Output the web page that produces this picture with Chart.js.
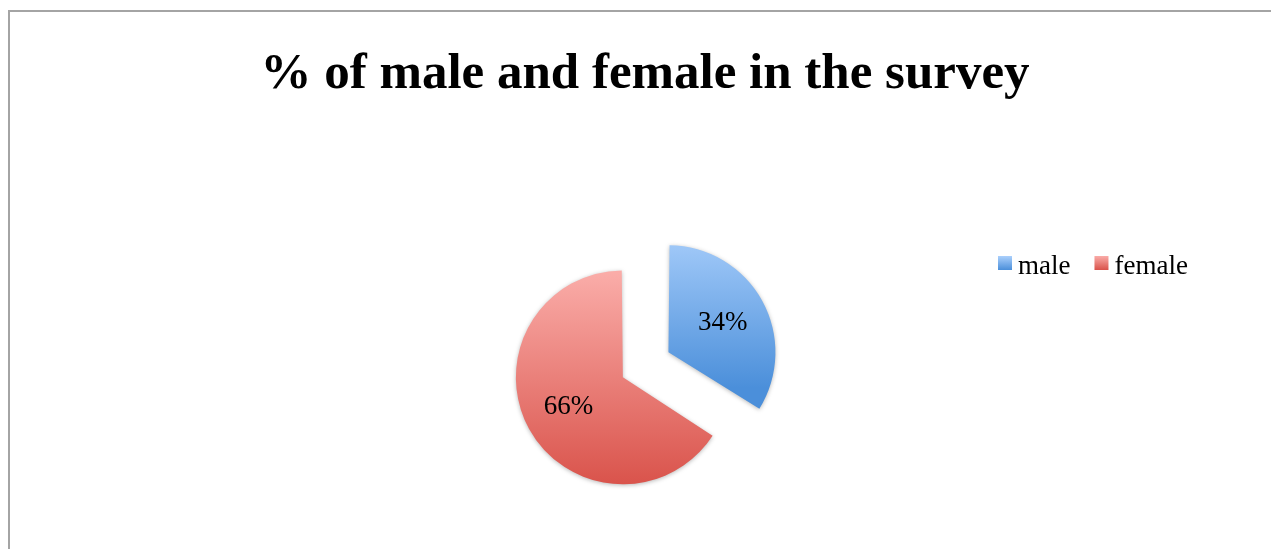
<!DOCTYPE html>
<html>
<head>
<meta charset="utf-8">
<title>% of male and female in the survey</title>
<script src="https://cdn.jsdelivr.net/npm/chart.js@4.4.1/dist/chart.umd.min.js"></script>
<style>
html, body { margin: 0; padding: 0; background: #fff; overflow: hidden; }
#wrap { position: relative; width: 1271px; height: 549px; }
#frame { position: absolute; left: 8px; top: 10px; right: -10px; bottom: -10px;
         border-top: 2px solid #a4a4a4; border-left: 2px solid #a4a4a4; }
#survey { position: absolute; left: 0; top: 0; }
</style>
</head>
<body>
<div id="wrap">
  <div id="frame"></div>
  <canvas id="survey" width="1271" height="549"></canvas>
</div>
<script>
var genders = ['male', 'female'];
var shares = [34, 66];
var chartTitle = '% of male and female in the survey';

// light (top) and dark (bottom) end of each slice gradient
var lightColors = ['#abd0fc', '#faaca8'];
var darkColors = ['#4b8fda', '#d9524a'];

// Chart.js moves an arc by offset/4 and grows it by (offset/4)*(1 - sin(min(PI, sweep))),
// so these two keep both slices at the same radius once exploded
var PIE_RADIUS = 100;
var EXPLODE = [180, 28];

function sliceShift(i){
	var total = shares.reduce(function(a, b){ return a + b; }, 0);
	var sweep = 2 * Math.PI * shares[i] / total;
	var move = EXPLODE[i] / 4;
	return { move: move, grow: move * (1 - Math.sin(Math.min(Math.PI, sweep))) };
}

// vertical extent of slice i after it has been pushed out along its bisector
function sliceSpan(i, cy){
	var total = 0, before = 0;
	for (var k = 0; k < shares.length; k++){
		total += shares[k];
		if (k < i) before += shares[k];
	}
	var start = -Math.PI / 2 + 2 * Math.PI * before / total;
	var end = start + 2 * Math.PI * shares[i] / total;
	var mid = (start + end) / 2;
	var s = sliceShift(i);
	var r = PIE_RADIUS + s.grow;
	var c = cy + Math.sin(mid) * s.move;
	var ys = [c, c + Math.sin(start) * r, c + Math.sin(end) * r];
	[-Math.PI / 2, Math.PI / 2, 3 * Math.PI / 2].forEach(function(a){
		if (a >= start && a <= end) ys.push(c + Math.sin(a) * r);
	});
	return [Math.min.apply(null, ys), Math.max.apply(null, ys)];
}

function sliceGradient(context){
	var chart = context.chart;
	var area = chart.chartArea;
	var i = context.dataIndex;
	if (!area || i === undefined) return lightColors[i || 0];
	var span = sliceSpan(i, (area.top + area.bottom) / 2);
	var g = chart.ctx.createLinearGradient(0, span[0], 0, span[1]);
	g.addColorStop(0, lightColors[i]);
	g.addColorStop(1, darkColors[i]);
	return g;
}

// title sits a little right of the pie centre
var titleNudge = {
	id: 'titleNudge',
	afterLayout: function(chart){
		if (chart.titleBlock){
			chart.titleBlock.left += 16;
			chart.titleBlock.right += 16;
		}
	}
};

// soft shadow under the slices
var sliceShadow = {
	id: 'sliceShadow',
	beforeDatasetsDraw: function(chart){
		var ctx = chart.ctx;
		ctx.save();
		ctx.shadowColor = 'rgba(0,0,0,0.28)';
		ctx.shadowBlur = 4;
		ctx.shadowOffsetX = 0;
		ctx.shadowOffsetY = 1;
	},
	afterDatasetsDraw: function(chart){
		chart.ctx.restore();
	}
};

// percentage written inside each slice
var sliceLabels = {
	id: 'sliceLabels',
	afterDatasetsDraw: function(chart){
		var ctx = chart.ctx;
		var meta = chart.getDatasetMeta(0);
		ctx.save();
		ctx.font = '27px "Liberation Serif", serif';
		ctx.fillStyle = '#000';
		ctx.textAlign = 'center';
		ctx.textBaseline = 'middle';
		meta.data.forEach(function(arc, i){
			var p = arc.getProps(['x', 'y', 'startAngle', 'endAngle', 'outerRadius'], true);
			var mid = (p.startAngle + p.endAngle) / 2;
			var s = sliceShift(i);
			var d = s.move + (p.outerRadius + s.grow) * 0.58;
			ctx.fillText(shares[i] + '%', p.x + Math.cos(mid) * d, p.y + Math.sin(mid) * d);
		});
		ctx.restore();
	}
};

// one-line legend to the right of the pie
var rowLegend = {
	id: 'rowLegend',
	afterDraw: function(chart){
		var ctx = chart.ctx;
		var x = 998, top = 256, box = 14;
		ctx.save();
		ctx.font = '27px "Liberation Serif", serif';
		ctx.textBaseline = 'alphabetic';
		ctx.textAlign = 'left';
		genders.forEach(function(name, i){
			var g = ctx.createLinearGradient(0, top, 0, top + box);
			g.addColorStop(0, lightColors[i]);
			g.addColorStop(1, darkColors[i]);
			ctx.fillStyle = g;
			ctx.fillRect(x, top, box, box);
			ctx.fillStyle = '#000';
			ctx.fillText(name, x + box + 6, 274);
			x += box + 6 + ctx.measureText(name).width + 24;
		});
		ctx.restore();
	}
};

var ctx = document.getElementById('survey').getContext('2d');
var surveyChart = new Chart(ctx, {
	type: 'pie',
	data: {
		labels: genders,
		datasets: [{
			data: shares,
			backgroundColor: sliceGradient,
			borderWidth: 0,
			offset: EXPLODE,
			hoverOffset: 0
		}]
	},
	options: {
		responsive: false,
		animation: false,
		devicePixelRatio: 1,
		radius: PIE_RADIUS,
		layout: { padding: { left: 0, right: 13, top: 0, bottom: 0 } },
		plugins: {
			legend: { display: false },
			tooltip: { enabled: false },
			title: {
				display: true,
				text: chartTitle,
				color: '#000',
				font: { family: '"Liberation Serif", serif', size: 51, weight: 'bold', lineHeight: 1.2 },
				padding: { top: 44, bottom: 93.8 }
			}
		}
	},
	plugins: [titleNudge, sliceShadow, sliceLabels, rowLegend]
});
</script>
</body>
</html>
